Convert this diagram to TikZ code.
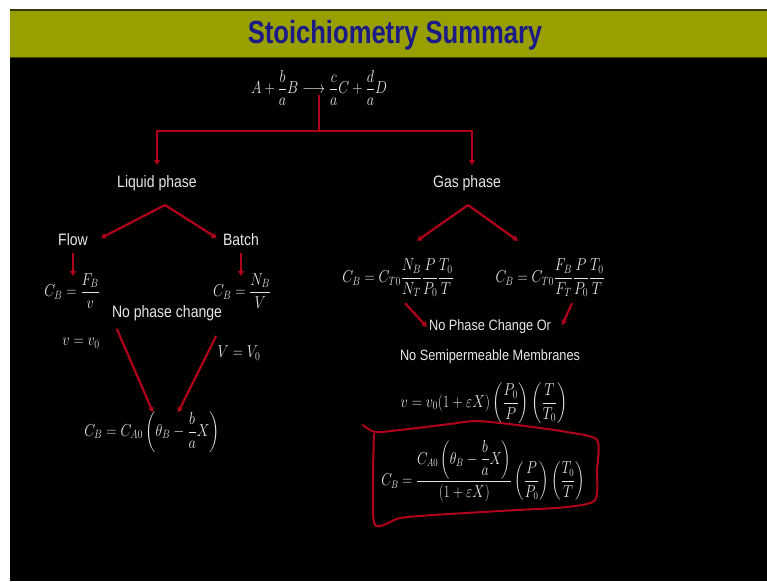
\documentclass[tikz,border=0pt]{standalone}
\usepackage{amsmath,amssymb}
\usepackage[no-math]{fontspec}
\usepackage{xcolor}
\usepackage{tikz}
\usetikzlibrary{arrows.meta}
\setmainfont{Liberation Sans}
\newfontfamily\narrowfont[FakeStretch=0.85]{Liberation Sans}
\newfontfamily\titlefont[FakeStretch=0.8]{Liberation Sans}
\definecolor{slidebar}{HTML}{97A000}
\definecolor{titleblue}{HTML}{1C1A85}
\definecolor{pen}{HTML}{B0001A}
\definecolor{chalk}{HTML}{E6E6E6}
\newcommand{\eqn}[1]{\scalebox{0.82}[1]{$\displaystyle #1$}}

\begin{document}
\begin{tikzpicture}[x=1pt, y=-1pt,
  lbl/.style={text=chalk, inner sep=2pt, font=\narrowfont\fontsize{16.5}{18}\selectfont},
  note/.style={lbl, font=\narrowfont\fontsize{15}{17}\selectfont},
  math/.style={text=chalk, inner sep=1pt, font=\fontsize{17}{20}\selectfont},
  link/.style={draw=pen, line width=2.2pt},
  arr/.style={link, -{Triangle[length=5pt, width=5.5pt]}}]

\useasboundingbox (0,0) rectangle (767,581);
\fill[white] (0,0) rectangle (767,581);
\fill[black] (10,58) rectangle (767,581);
\fill[slidebar] (10,9) rectangle (767,58);
\draw[slidebar!35!black, line width=1.5pt] (10,9.75) -- (767,9.75);
\draw[slidebar!45!black, line width=1pt] (10,57.5) -- (767,57.5);

\node[anchor=base, text=titleblue, font=\titlefont\bfseries\fontsize{32}{36}\selectfont]
  (title) at (395,43) {Stoichiometry Summary};

% reaction and the two phases
\node[math] (eq) at (319,88)
  {\eqn{A+\frac{b}{a}B\longrightarrow\frac{c}{a}C+\frac{d}{a}D}};
\coordinate (split) at ([yshift=-43pt]eq.center);
\node[lbl] (liquid) at (157,183) {Liquid phase};
\node[lbl] (gas) at (467,183) {Gas phase};
\draw[link] ([yshift=-7pt]eq.center) -- (split);
\draw[arr] (split) -| ([yshift=8pt]liquid.north);
\draw[arr] (split) -| ([xshift=5pt, yshift=8pt]gas.north);

% liquid side
\coordinate (lsplit) at (165,205);
\node[lbl] (flow) at (73,240) {Flow};
\node[lbl] (batch) at (241,240) {Batch};
\node[math] (cbflow) at (72,291) {\eqn{C_B=\frac{F_B}{v}}};
\node[math] (cbbatch) at (242,291) {\eqn{C_B=\frac{N_B}{V}}};
\node[lbl] (nochange) at (167,313) {No phase change};
\node[math] (vflow) at (81,343) {\eqn{v=v_0}};
\node[math] (vbatch) at (239,353) {\eqn{V=V_0}};
\node[math] (cbliq) at (152,432)
  {\eqn{C_B=C_{A0}\left(\theta_B-\frac{b}{a}X\right)}};
\draw[arr] (lsplit) -- ([xshift=11pt, yshift=2pt]flow.east);
\draw[arr] (lsplit) -- ([xshift=-4pt, yshift=2pt]batch.west);
\draw[arr] ([yshift=-5pt]flow.south) -- ([yshift=-4pt]flow.south |- cbflow.north);
\draw[arr] ([yshift=-5pt]batch.south) -- ([yshift=-4pt]batch.south |- cbbatch.north);
\draw[arr] ([xshift=7pt, yshift=-6pt]nochange.south west) -- ([xshift=1pt, yshift=-2pt]cbliq.north);
\draw[arr] ([xshift=-8pt, yshift=-13pt]nochange.south east) -- ([xshift=26pt, yshift=-2pt]cbliq.north);

% gas side
\coordinate (gsplit) at (468,205);
\node[math] (cbgasn) at (398,278)
  {\eqn{C_B=C_{T0}\frac{N_B}{N_T}\frac{P}{P_0}\frac{T_0}{T}}};
\node[math] (cbgasf) at (550,278)
  {\eqn{C_B=C_{T0}\frac{F_B}{F_T}\frac{P}{P_0}\frac{T_0}{T}}};
\node[note] (nophase) at (490,327) {No Phase Change Or};
\node[note] (nomemb) at (490,357) {No Semipermeable Membranes};
\node[math] (vgas) at (484,403)
  {\eqn{v=v_0(1+\varepsilon X)\left(\frac{P_0}{P}\right)\left(\frac{T}{T_0}\right)}};
\node[math, font=\fontsize{16}{19}\selectfont] (cbgas) at (483,471)
  {\scalebox{0.8}[1]{$\displaystyle C_B=\frac{C_{A0}\left(\theta_B-\dfrac{b}{a}X\right)}{(1+\varepsilon X)}
   \left(\frac{P}{P_0}\right)\left(\frac{T_0}{T}\right)$}};
\draw[arr] (gsplit) -- ([xshift=19pt, yshift=17pt]cbgasn.north);
\draw[arr] (gsplit) -- ([xshift=-32pt, yshift=17pt]cbgasf.north);
\draw[arr] ([xshift=7pt, yshift=-5pt]cbgasn.south) -- (nophase.west);
\draw[arr] ([xshift=22pt, yshift=-5pt]cbgasf.south) -- ([xshift=9pt, yshift=2pt]nophase.east);

% hand drawn box round the result
\draw[pen, line width=2pt, line cap=round, line join=round]
  plot[smooth, tension=0.45] coordinates {(363,425) (375,432) (400,430) (450,424)
    (477,421) (517,425) (567,432) (597,440) (597,470) (595,500) (567,507)
    (517,510) (483,512) (433,515) (400,518) (375,525) (373,477) (374,434)};

\end{tikzpicture}
\end{document}
